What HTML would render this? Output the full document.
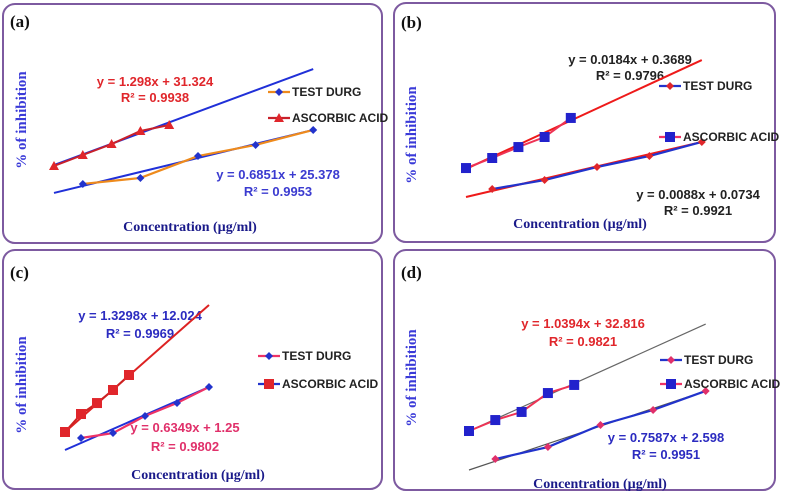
<!DOCTYPE html>
<html><head><meta charset="utf-8"><style>
html,body{margin:0;padding:0;background:#fff;}
svg{display:block;}
.eq{font-family:"Liberation Sans Narrow","Liberation Sans",sans-serif;font-weight:bold;font-size:13px;}
.lg{font-family:"Liberation Sans Narrow","Liberation Sans",sans-serif;font-weight:bold;font-size:12px;fill:#222;}
.pl{font-family:"Liberation Serif",serif;font-weight:bold;font-size:17px;fill:#111;}
.yt{font-family:"Liberation Serif",serif;font-weight:bold;font-size:15px;fill:#3a3ad8;}
.xt{font-family:"Liberation Serif",serif;font-weight:bold;font-size:14px;fill:#1a1a8a;}
</style></head><body>
<svg id="fig" width="787" height="494" viewBox="0 0 787 494" xmlns="http://www.w3.org/2000/svg">
<rect x="3" y="4" width="379" height="239" rx="12" fill="#fff" stroke="#7d5aa0" stroke-width="2"/>
<rect x="394" y="3" width="381" height="239" rx="12" fill="#fff" stroke="#7d5aa0" stroke-width="2"/>
<rect x="3" y="250" width="379" height="239" rx="12" fill="#fff" stroke="#7d5aa0" stroke-width="2"/>
<rect x="394" y="250" width="381" height="240" rx="12" fill="#fff" stroke="#7d5aa0" stroke-width="2"/>

<text class="pl" x="10" y="27">(a)</text>
<text class="pl" x="401" y="28">(b)</text>
<text class="pl" x="10" y="278">(c)</text>
<text class="pl" x="401" y="278">(d)</text>

<text class="yt" transform="translate(26,120) rotate(-90)" text-anchor="middle">% of inhibition</text>
<text class="yt" transform="translate(416,135) rotate(-90)" text-anchor="middle">% of inhibition</text>
<text class="yt" transform="translate(26,385) rotate(-90)" text-anchor="middle">% of inhibition</text>
<text class="yt" transform="translate(416,378) rotate(-90)" text-anchor="middle">% of inhibition</text>

<text class="xt" x="190" y="231" text-anchor="middle">Concentration (µg/ml)</text>
<text class="xt" x="580" y="228" text-anchor="middle">Concentration (µg/ml)</text>
<text class="xt" x="198" y="479" text-anchor="middle">Concentration (µg/ml)</text>
<text class="xt" x="600" y="488" text-anchor="middle">Concentration (µg/ml)</text>

<text class="eq" x="155" y="86" text-anchor="middle" fill="#e0262b">y = 1.298x + 31.324</text>
<text class="eq" x="155" y="102" text-anchor="middle" fill="#e0262b">R² = 0.9938</text>
<text class="eq" x="278" y="179" text-anchor="middle" fill="#3b3bd0">y = 0.6851x + 25.378</text>
<text class="eq" x="278" y="196" text-anchor="middle" fill="#3b3bd0">R² = 0.9953</text>

<text class="eq" x="630" y="64" text-anchor="middle" fill="#222">y = 0.0184x + 0.3689</text>
<text class="eq" x="630" y="80" text-anchor="middle" fill="#222">R² = 0.9796</text>
<text class="eq" x="698" y="199" text-anchor="middle" fill="#222">y = 0.0088x + 0.0734</text>
<text class="eq" x="698" y="215" text-anchor="middle" fill="#222">R² = 0.9921</text>

<text class="eq" x="140" y="320" text-anchor="middle" fill="#2b2bc0">y = 1.3298x + 12.024</text>
<text class="eq" x="140" y="338" text-anchor="middle" fill="#2b2bc0">R² = 0.9969</text>
<text class="eq" x="185" y="432" text-anchor="middle" fill="#e0306a">y = 0.6349x + 1.25</text>
<text class="eq" x="185" y="451" text-anchor="middle" fill="#e0306a">R² = 0.9802</text>

<text class="eq" x="583" y="328" text-anchor="middle" fill="#e0262b">y = 1.0394x + 32.816</text>
<text class="eq" x="583" y="346" text-anchor="middle" fill="#e0262b">R² = 0.9821</text>
<text class="eq" x="666" y="442" text-anchor="middle" fill="#2b2bc0">y = 0.7587x + 2.598</text>
<text class="eq" x="666" y="459" text-anchor="middle" fill="#2b2bc0">R² = 0.9951</text>
<g id="marks"></g>
</svg>
<script>
// Data (x = concentration index, values = % inhibition, arbitrary units)
const ascIdx = [0, 1, 2, 3, 4];
const testIdx = [1, 3, 5, 7, 9];
const aAsc = [22.7, 30, 37.3, 46, 50];
const aTest = [10.7, 14.7, 29.3, 36.7, 46.7];
const aAscTrend = [23.3, 87.3];
const aTestTrend = [4.7, 46.7];
const bAsc = [21.3, 28, 35.3, 42, 54.7];
const bTest = [7.3, 13.3, 22, 29.3, 38.7];
const bAscTrend = [20.7, 93.3];
const bTestTrend = [2, 38.7];
const cAsc = [12, 24, 31.3, 40, 50];
const cTest = [8, 11.3, 22.7, 31.3, 42];
const cAscTrend = [12, 96.7];
const cTestTrend = [0, 42];
const dAsc = [26, 33.3, 38.7, 51.3, 56.7];
const dTest = [7.3, 15.3, 30, 40, 52.7];
const dAscTrend = [26, 97.3];
const dTestTrend = [0, 52.7];
const trendIdx = [0, 9];
const legendLabels = ["TEST DURG", "ASCORBIC ACID"];

const NS = "http://www.w3.org/2000/svg";
const root = document.getElementById("marks");
function mk(tag, attrs, name) {
  const e = document.createElementNS(NS, tag);
  for (const k in attrs) e.setAttribute(k, attrs[k]);
  
  
  root.appendChild(e);
  return e;
}
const panels = [
  {id:"a", x0:54, step:28.8, y0:200, k:1.5, asc:aAsc, test:aTest, at:aAscTrend, tt:aTestTrend,
   ascLine:"#c8202a", ascMark:"tri", ascMarkC:"#e0262b", testLine:"#ee8a1c", testMark:"dia", testMarkC:"#2233cc",
   atC:"#2030d8", ttC:"#2030d8", lx:268, ly:[92,118], lTestLine:"#ee8a1c", lAscLine:"#c8202a"},
  {id:"b", x0:466, step:26.2, y0:200, k:1.5, asc:bAsc, test:bTest, at:bAscTrend, tt:bTestTrend,
   ascLine:"#ee3355", ascMark:"sq", ascMarkC:"#2222cc", testLine:"#2233cc", testMark:"dia", testMarkC:"#e0262b",
   atC:"#ee1a1a", ttC:"#ee1a1a", lx:659, ly:[86,137], lTestLine:"#2233cc", lAscLine:"#ee3366"},
  {id:"c", x0:65, step:16, y0:450, k:1.5, asc:cAsc, test:cTest, at:cAscTrend, tt:cTestTrend,
   ascLine:"#cc2222", ascMark:"sq", ascMarkC:"#e0262b", testLine:"#ee3366", testMark:"dia", testMarkC:"#2233cc",
   atC:"#dd2222", ttC:"#2030d8", lx:258, ly:[356,384], lTestLine:"#ee3366", lAscLine:"#2233cc"},
  {id:"d", x0:469, step:26.3, y0:470, k:1.5, asc:dAsc, test:dTest, at:dAscTrend, tt:dTestTrend,
   ascLine:"#ee3355", ascMark:"sq", ascMarkC:"#2222cc", testLine:"#2233cc", testMark:"dia", testMarkC:"#e0306a",
   atC:"#666", ttC:"#555", lx:660, ly:[360,384], lTestLine:"#2233cc", lAscLine:"#ee3366"}
];
function marker(type, cx, cy, color, name) {
  if (type === "tri") return mk("polygon", {points:`${cx},${cy-5} ${cx-5},${cy+4} ${cx+5},${cy+4}`, fill:color}, name);
  if (type === "sq") return mk("rect", {x:cx-5, y:cy-5, width:10, height:10, fill:color}, name);
  return mk("polygon", {points:`${cx},${cy-4} ${cx+4},${cy} ${cx},${cy+4} ${cx-4},${cy}`, fill:color}, name);
}
panels.forEach(p => {
  const X = i => p.x0 + i * p.step;
  const Y = v => p.y0 - v * p.k;
  // trend lines
  mk("line", {x1:X(trendIdx[0]), y1:Y(p.at[0]), x2:X(trendIdx[1]), y2:Y(p.at[1]), stroke:p.atC, "stroke-width":p.id==="d"?1.2:2}, `panel-${p.id}-ascorbic-trendline`);
  mk("line", {x1:X(trendIdx[0]), y1:Y(p.tt[0]), x2:X(trendIdx[1]), y2:Y(p.tt[1]), stroke:p.ttC, "stroke-width":p.id==="d"?1.2:2}, `panel-${p.id}-test-trendline`);
  // series lines
  mk("polyline", {points:p.asc.map((v,i)=>X(ascIdx[i])+","+Y(v)).join(" "), fill:"none", stroke:p.ascLine, "stroke-width":2}, `panel-${p.id}-ascorbic-line`);
  mk("polyline", {points:p.test.map((v,i)=>X(testIdx[i])+","+Y(v)).join(" "), fill:"none", stroke:p.testLine, "stroke-width":2.2}, `panel-${p.id}-test-line`);
  p.asc.forEach((v,i)=>marker(p.ascMark, X(ascIdx[i]), Y(v), p.ascMarkC, `panel-${p.id}-ascorbic-point`));
  p.test.forEach((v,i)=>marker(p.testMark, X(testIdx[i]), Y(v), p.testMarkC, `panel-${p.id}-test-point`));
  // legend
  [[p.lTestLine, p.testMark, p.testMarkC],[p.lAscLine, p.ascMark, p.ascMarkC]].forEach((s, j) => {
    const ly = p.ly[j];
    mk("line", {x1:p.lx, y1:ly, x2:p.lx+22, y2:ly, stroke:s[0], "stroke-width":2.2}, `panel-${p.id}-legend-line`);
    marker(s[1], p.lx+11, ly, s[2], `panel-${p.id}-legend-marker`);
    const t = mk("text", {x:p.lx+24, y:ly+4, class:"lg"}, `panel-${p.id}-legend-entry`);
    t.textContent = legendLabels[j];
  });
});
</script>
</body></html>
